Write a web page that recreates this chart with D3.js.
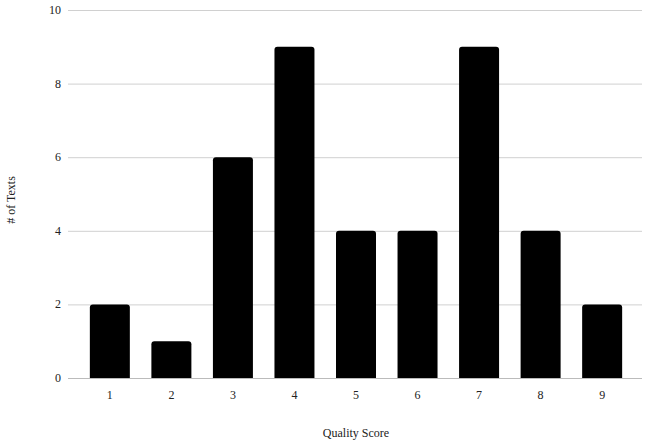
<!DOCTYPE html>
<html><head><meta charset="utf-8">
<script src="https://cdn.jsdelivr.net/npm/d3@7"></script>
<style>body{margin:0;background:#fff}svg{display:block}text{font-family:"Liberation Serif","DejaVu Serif",serif;fill:#222}</style>
</head><body>
<script>
const categories = ["1","2","3","4","5","6","7","8","9"];
const counts = [2,1,6,9,4,4,9,4,2];
const yTicks = [0,2,4,6,8,10];
const xTitle = "Quality Score";
const yTitle = "# of Texts";

const W=648,H=446;
const svg=d3.select("body").append("svg").attr("width",W).attr("height",H);
const x=d3.scaleBand().domain(categories).range([70,642]).paddingInner(0.35).paddingOuter(0.3225);
const y=d3.scaleLinear().domain([0,10]).range([378,10]);

svg.append("g").selectAll("line").data(yTicks).join("line")
  .attr("x1",68).attr("x2",642).attr("y1",d=>y(d)+0.5).attr("y2",d=>y(d)+0.5)
  .attr("stroke",d=>d===0?"#bbb":"#d0d0d0").attr("stroke-width",1);

svg.append("g").selectAll("text").data(yTicks).join("text")
  .attr("x",61).attr("y",d=>y(d)+4).attr("text-anchor","end").attr("font-size",12).text(d=>d);

const r=3;
svg.append("g").selectAll("path").data(counts).join("path")
  .attr("fill","#000")
  .attr("d",(d,i)=>{
    const x0=x(categories[i]), w=x.bandwidth(), y0=y(d), yb=y(0);
    return `M${x0},${yb}V${y0+r}Q${x0},${y0} ${x0+r},${y0}H${x0+w-r}Q${x0+w},${y0} ${x0+w},${y0+r}V${yb}Z`;
  });

svg.append("g").selectAll("text").data(categories).join("text")
  .attr("x",d=>x(d)+x.bandwidth()/2).attr("y",399).attr("text-anchor","middle").attr("font-size",12).text(d=>d);

svg.append("text").attr("x",356).attr("y",437).attr("text-anchor","middle").attr("font-size",12).text(xTitle);
svg.append("text").attr("transform","translate(15,200) rotate(-90)").attr("text-anchor","middle").attr("font-size",12).text(yTitle);
</script>
</body></html>
